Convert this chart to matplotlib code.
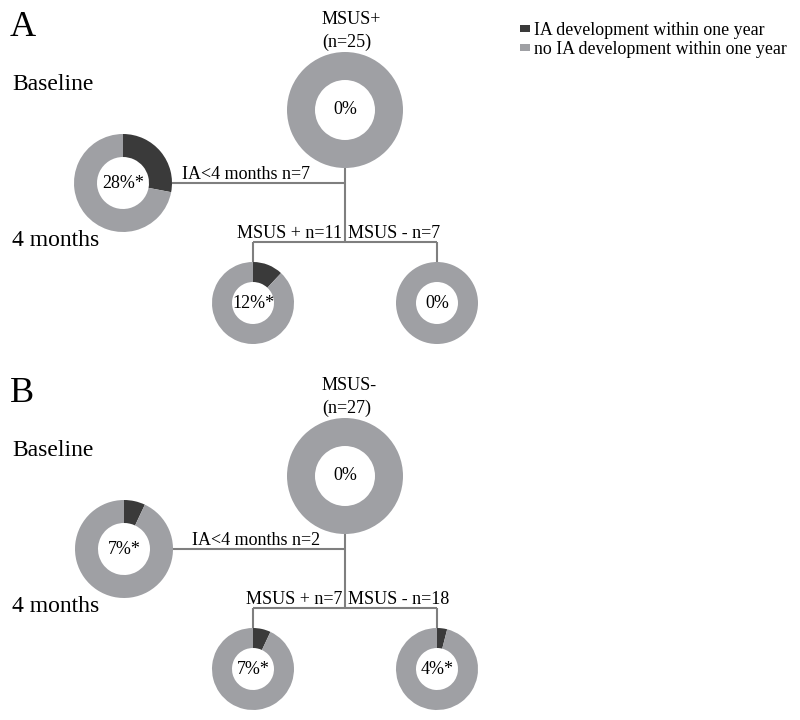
import matplotlib
matplotlib.use("Agg")
import matplotlib.pyplot as plt
from matplotlib.patches import Patch

plt.rcParams['font.family'] = ['Liberation Serif', 'DejaVu Serif']

# ---- data ----
panels = ["A", "B"]
baseline_groups = ["MSUS+", "MSUS-"]
baseline_n = [25, 27]
baseline_pct = [0, 0]
ia4_n = [7, 2]
ia4_pct = [28, 7]
msus_pos_n = [11, 7]
msus_pos_pct = [12, 7]
msus_neg_n = [7, 18]
msus_neg_pct = [0, 4]
pct_labels_ia4 = ["28%*", "7%*"]
pct_labels_pos = ["12%*", "7%*"]
pct_labels_neg = ["0%", "4%*"]
legend_labels = ["IA development within one year", "no IA development within one year"]

DARK = "#3a3a3a"
GRAY = "#9fa0a4"
LINE = "#7f7f7f"

fig = plt.figure(figsize=(8, 7.2), dpi=100)
ax = fig.add_axes([0, 0, 1, 1])


def donut(cx, cy, r, rin, pct, label, fs=13):
    ax.pie([pct, 100 - pct], colors=[DARK, GRAY], startangle=90, counterclock=False,
           center=(cx, -cy), radius=r, frame=True,
           wedgeprops=dict(width=r - rin, linewidth=0))
    ax.text(cx, -cy, label, ha='center', va='center', fontsize=fs)


def line(xs, ys):
    ax.plot(xs, [-y for y in ys], color=LINE, lw=1.5, solid_capstyle='butt', zorder=0)


offsets = [0, 366]
left_x = [123, 124]
lab_x = [182, 192]
for i, off in enumerate(offsets):
    top_c = (345, 110 + off)
    left_c = (left_x[i], 183 + off)
    bl_c = (253, 303 + off)
    br_c = (437, 303 + off)
    # connectors
    line([172, 345], [left_c[1], left_c[1]])
    line([345, 345], [top_c[1] + 58, 242 + off])
    line([253, 437], [242 + off, 242 + off])
    line([253, 253], [242 + off, 262 + off])
    line([437, 437], [242 + off, 262 + off])
    # donuts
    donut(top_c[0], top_c[1], 58, 30, baseline_pct[i], f"{baseline_pct[i]}%")
    donut(left_c[0], left_c[1], 49, 26, ia4_pct[i], pct_labels_ia4[i])
    donut(bl_c[0], bl_c[1], 41, 21, msus_pos_pct[i], pct_labels_pos[i])
    donut(br_c[0], br_c[1], 41, 21, msus_neg_pct[i], pct_labels_neg[i])
    # texts
    ax.text(10, -(28 + off), panels[i], fontsize=26, ha='left', va='center')
    ax.text(12, -(84 + off), "Baseline", fontsize=17, ha='left', va='center')
    ax.text(12, -(241 + off), "4 months", fontsize=17, ha='left', va='center')
    ax.text(322, -(19 + off), baseline_groups[i], fontsize=13, ha='left', va='center')
    ax.text(322, -(42 + off), f"(n={baseline_n[i]})", fontsize=13, ha='left', va='center')
    ax.text(lab_x[i], -(179 + off), f"IA<4 months n={ia4_n[i]}", fontsize=13,
            ha='left', va='baseline')
    ax.text(342, -(238 + off), f"MSUS + n={msus_pos_n[i]}", fontsize=13,
            ha='right', va='baseline')
    ax.text(348, -(238 + off), f"MSUS - n={msus_neg_n[i]}", fontsize=13,
            ha='left', va='baseline')

ax.set_xlim(0, 800)
ax.set_ylim(-720, 0)
ax.set_aspect('equal', adjustable='box')
ax.axis('off')

handles = [Patch(facecolor=DARK, edgecolor='none'), Patch(facecolor=GRAY, edgecolor='none')]
fig.legend(handles, legend_labels, loc='upper left', bbox_to_anchor=(520 / 800, 1 - 22 / 720),
           frameon=False, fontsize=12.9, handlelength=0.55, handleheight=0.25,
           handletextpad=0.25, labelspacing=0.12, borderpad=0, borderaxespad=0)

fig.savefig("out.png", dpi=100, facecolor='white')
